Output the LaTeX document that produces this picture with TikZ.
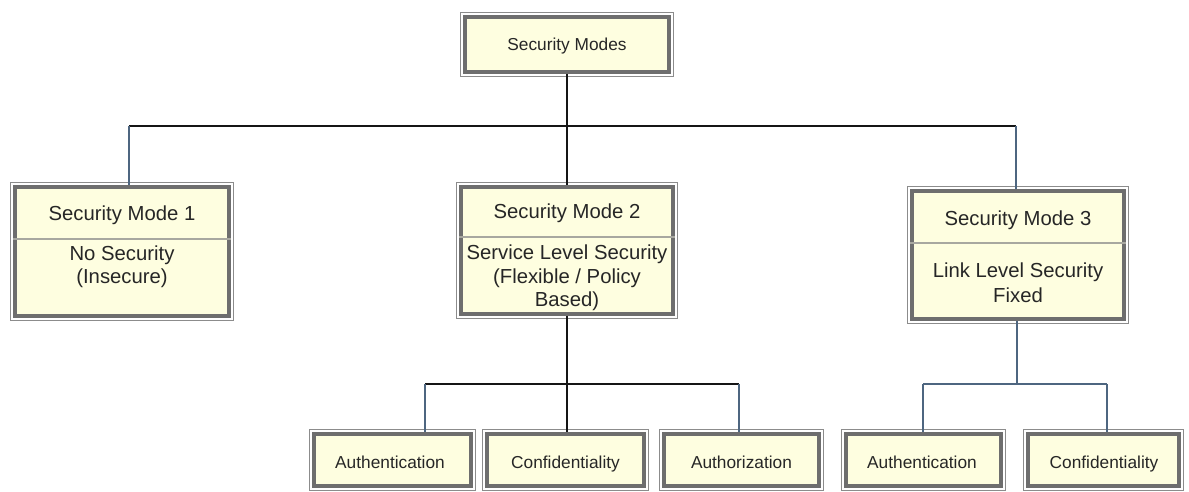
\documentclass[tikz,border=0pt]{standalone}
\usepackage{fontspec}
\setmainfont{Liberation Sans}
\usetikzlibrary{calc}
\definecolor{boxfill}{HTML}{FEFEE0}
\definecolor{frame}{HTML}{6E6E6E}
\definecolor{frameout}{HTML}{8C8C8C}
\definecolor{divider}{HTML}{A8A8A0}
\definecolor{wireblack}{HTML}{151515}
\definecolor{wireslate}{HTML}{4E6680}
\tikzset{
  box/.style={draw=frame, line width=3.6pt, fill=boxfill, inner sep=0pt},
  outerframe/.style={draw=frameout, line width=1pt},
  divline/.style={draw=divider, line width=1.6pt},
  big/.style={font=\fontsize{20.3}{24}\selectfont, anchor=base, inner sep=0pt, text=black!85},
  small/.style={font=\fontsize{17.3}{20}\selectfont, anchor=base, inner sep=0pt, text=black!85},
  wire/.style={draw=wireblack, line width=2pt},
  wiret/.style={draw=wireslate, line width=2pt},
}
\begin{document}
\begin{tikzpicture}[x=1pt, y=-1pt]
\useasboundingbox[fill=white] (0,0) rectangle (1189,491);

% boxes
\node[box, minimum width=204pt, minimum height=55pt] (top) at (567,44.5) {};
\node[box, minimum width=214pt, minimum height=129pt] (m1) at (122,251.5) {};
\node[box, minimum width=212pt, minimum height=127pt] (m2) at (567,250.5) {};
\node[box, minimum width=212pt, minimum height=128pt] (m3) at (1018,255) {};
\node[box, minimum width=157pt, minimum height=52pt] (a1) at (392.5,460) {};
\node[box, minimum width=157pt, minimum height=52pt] (c1) at (565.5,460) {};
\node[box, minimum width=155pt, minimum height=52pt] (z1) at (741.5,460) {};
\node[box, minimum width=155pt, minimum height=52pt] (a2) at (923.5,460) {};
\node[box, minimum width=151pt, minimum height=52pt] (c2) at (1103.5,460) {};

% thin outer rule round every box
\foreach \n in {top,m1,m2,m3,a1,c1,z1,a2,c2}
  \draw[outerframe] ($(\n.north west)+(-2.8pt,2.8pt)$) rectangle ($(\n.south east)+(2.8pt,-2.8pt)$);

% dividers under the mode titles
\draw[divline] (m1.west |- 0,239) -- (m1.east |- 0,239);
\draw[divline] (m2.west |- 0,237) -- (m2.east |- 0,237);
\draw[divline] (m3.west |- 0,243) -- (m3.east |- 0,243);

% texts
\node[small] (ttop) at (567,50) {Security Modes};
\node[big] (t1a) at (122,220) {Security Mode 1};
\node[big] (t1b) at (122,260) {No Security};
\node[big] (t1c) at (122,283) {(Insecure)};
\node[big] (t2a) at (567,218) {Security Mode 2};
\node[big] (t2b) at (567,259) {Service Level Security};
\node[big] (t2c) at (567,283) {(Flexible / Policy};
\node[big] (t2d) at (567,306) {Based)};
\node[big] (t3a) at (1018,225) {Security Mode 3};
\node[big] (t3b) at (1018,277) {Link Level Security};
\node[big] (t3c) at (1018,302) {Fixed};
\node[small] (ta1) at (390,468) {Authentication};
\node[small] (tc1) at (565.5,468) {Confidentiality};
\node[small] (tz1) at (741.5,468) {Authorization};
\node[small] (ta2) at (922,468) {Authentication};
\node[small] (tc2) at (1104,468) {Confidentiality};

% junction points of the tree
\coordinate (busL) at (129,126);
\coordinate (busM) at (567,126);
\coordinate (busR) at (1016,126);
\coordinate (subL) at (425,384);
\coordinate (subM) at (567,384);
\coordinate (subR) at (739,384);
\coordinate (lnkL) at (923,384);
\coordinate (lnkM) at (1017,384);
\coordinate (lnkR) at (1107,384);

% connectors
\draw[wire] (top.south) -- (busM);
\draw[wire] (busL) -- (busR);
\draw[wiret] (busL) -- (busL |- m1.north);
\draw[wire] (busM) -- (m2.north);
\draw[wiret] (busR) -- (busR |- m3.north);

\draw[wire] (m2.south) -- (subM);
\draw[wire] (subL) -- (subR);
\draw[wiret] (subL) -- (subL |- a1.north);
\draw[wire] (subM) -- (subM |- c1.north);
\draw[wiret] (subR) -- (subR |- z1.north);

\draw[wiret] (lnkM |- m3.south) -- (lnkM);
\draw[wiret] (lnkL) -- (lnkR);
\draw[wiret] (lnkL) -- (lnkL |- a2.north);
\draw[wiret] (lnkR) -- (lnkR |- c2.north);
\end{tikzpicture}
\end{document}
